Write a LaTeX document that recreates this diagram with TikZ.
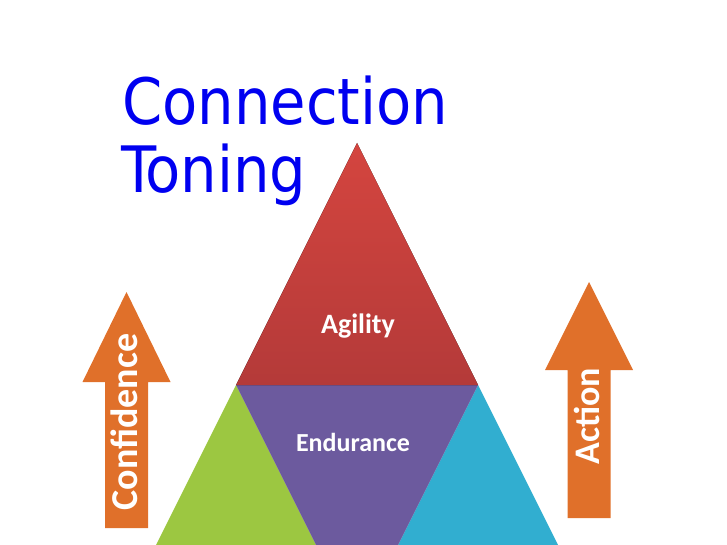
\documentclass[tikz,border=0pt]{standalone}
\usepackage{fontspec}
\setmainfont{Carlito}
\newfontfamily\titlefont{DejaVu Sans Condensed}
\definecolor{tBlue}{HTML}{0000F0}
\definecolor{tRedTop}{HTML}{D4453F}
\definecolor{tRedBot}{HTML}{B43A39}
\definecolor{tPurple}{HTML}{6C5A9E}
\definecolor{tGreen}{HTML}{9CC741}
\definecolor{tCyan}{HTML}{31AED0}
\definecolor{tOrange}{HTML}{E0702A}

\begin{document}
\begin{tikzpicture}[x=1pt, y=-1pt, every node/.style={font=\bfseries\fontsize{26}{26}\selectfont, text=white}]
    \useasboundingbox (0,0) rectangle (727,545);
    \clip (0,0) rectangle (727,545);
    % pyramid corners
    \coordinate (apex) at (357,143);
    \coordinate (ml) at (236,385);
    \coordinate (mr) at (478,385);
    \coordinate (bl) at (115,627);
    \coordinate (bm) at (357,627);
    \coordinate (br) at (599,627);
    \fill[tGreen] (ml) -- (bl) -- (bm) -- cycle;
    \fill[tCyan] (mr) -- (bm) -- (br) -- cycle;
    \fill[tPurple] (ml) -- (mr) -- (bm) -- cycle;
    \fill[top color=tRedTop, bottom color=tRedBot] (apex) -- (ml) -- (mr) -- cycle;
    \node[font=\bfseries\fontsize{28}{28}\selectfont] (agility) at (358,326) {Agility};
    \node (endurance) at (353,442) {Endurance};
    % arrows
    \foreach \cx/\tip/\base/\bot/\ly/\fs/\lab in {126.5/292/382/528/422/38/Confidence,589/282/370/518/416/36/Action} {
      \fill[tOrange] (\cx,\tip) -- (\cx+44,\base) -- (\cx+21.5,\base) -- (\cx+21.5,\bot)
        -- (\cx-21.5,\bot) -- (\cx-21.5,\base) -- (\cx-44,\base) -- cycle;
      \node[rotate=90, font=\bfseries\fontsize{\fs}{\fs}\selectfont] (arr\lab) at (\cx-2,\ly) {\lab};
    }
    % title
    \node[anchor=base west, inner sep=0pt, font=\titlefont\fontsize{64}{64}\selectfont, text=tBlue] (title1) at (122,125) {Connection};
    \node[anchor=base west, inner sep=0pt, font=\titlefont\fontsize{64}{64}\selectfont, text=tBlue] (title2) at (121,193) {Toning};
\end{tikzpicture}
\end{document}
